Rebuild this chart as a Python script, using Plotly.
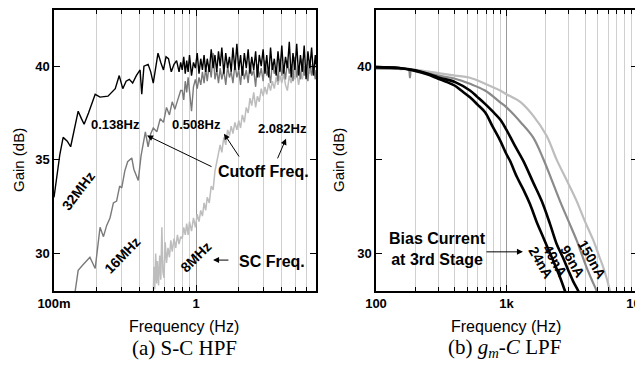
import math
import plotly.graph_objects as go

# ---------------- (a) S-C HPF data ----------------
F_HI = [0.80, 0.82, 0.84, 0.86, 0.88, 0.90, 0.93, 0.96, 0.99, 1.02, 1.05, 1.08, 1.11, 1.14, 1.17,
        1.20, 1.24, 1.28, 1.32, 1.36, 1.40, 1.44, 1.48, 1.52, 1.57, 1.62, 1.67, 1.72, 1.77, 1.82,
        1.88, 1.94, 2.00, 2.06, 2.12, 2.19, 2.26, 2.33, 2.40, 2.47, 2.55, 2.63, 2.71, 2.79, 2.88,
        2.97, 3.06, 3.15, 3.25, 3.35, 3.45, 3.56, 3.67, 3.78, 3.90, 4.02, 4.14, 4.27, 4.40, 4.54,
        4.68, 4.82, 4.97, 5.12, 5.28, 5.44, 5.61, 5.78, 5.96, 6.14, 6.33, 6.52, 6.72, 6.92, 7.00]

F_32_LO = [0.100, 0.105, 0.110, 0.116, 0.124, 0.131, 0.140, 0.148, 0.156, 0.163, 0.175, 0.195,
           0.211, 0.240, 0.270, 0.288, 0.305, 0.322, 0.339, 0.358, 0.380, 0.404, 0.415, 0.430,
           0.460, 0.480, 0.500, 0.540, 0.565, 0.590, 0.615, 0.640, 0.670, 0.700, 0.730, 0.760, 0.780]
G_32_LO = [33.0, 34.3, 35.3, 36.2, 36.0, 35.7, 36.8, 37.6, 37.2, 36.9, 37.5, 38.5,
           38.35, 38.4, 38.8, 39.5, 38.8, 39.2, 39.3, 39.1, 39.5, 39.8, 38.5, 40.0,
           40.1, 39.7, 39.1, 40.7, 40.2, 39.8, 40.5, 40.4, 39.7, 40.1, 40.3, 39.7, 40.2]
G_32_HI = [39.8, 40.5, 39.6, 40.3, 39.7, 40.6, 39.5, 40.2, 39.9, 40.7, 39.6, 40.4, 39.8, 40.6, 39.7,
           40.4, 39.7, 40.9, 39.9, 40.6, 39.7, 40.8, 40.0, 41.0, 39.6, 40.7, 39.9, 40.5, 39.7, 41.0,
           39.8, 41.2, 39.8, 40.6, 39.5, 40.7, 39.9, 40.9, 39.6, 40.5, 39.8, 40.8, 39.4, 40.6, 40.0,
           40.9, 39.6, 40.6, 39.4, 41.0, 39.8, 40.4, 39.5, 40.8, 39.7, 41.1, 39.6, 40.5, 39.9, 41.3,
           39.4, 40.7, 39.8, 41.2, 39.5, 40.6, 39.7, 41.1, 39.3, 40.8, 39.9, 41.0, 39.5, 40.6, 40.1]

F_16_LO = [0.138, 0.148, 0.160, 0.179, 0.195, 0.205, 0.211, 0.223, 0.235, 0.248, 0.262, 0.276,
           0.290, 0.300, 0.315, 0.330, 0.343, 0.353, 0.365, 0.380, 0.392, 0.410, 0.425, 0.440,
           0.460, 0.480, 0.500, 0.530, 0.560, 0.590, 0.620, 0.650, 0.680, 0.710, 0.730, 0.760, 0.780]
G_16_LO = [27.5, 29.1, 29.4, 29.8, 29.2, 30.6, 31.4, 30.9, 31.5, 31.9, 32.7, 32.8,
           33.6, 33.5, 34.4, 34.9, 35.05, 35.1, 34.5, 34.2, 33.9, 35.2, 36.0, 36.5,
           35.7, 36.4, 36.7, 36.5, 37.2, 37.0, 37.8, 37.4, 38.1, 37.7, 38.0, 38.5, 38.7]
G_16_HI = [38.7, 38.2, 39.2, 38.6, 39.4, 38.5, 37.6, 38.9, 39.3, 38.8, 39.4, 39.0, 39.7, 39.1, 39.9,
           39.2, 40.1, 39.4, 40.7, 39.3, 39.8, 39.1, 39.9, 39.3, 39.8, 39.0, 40.0, 39.4, 39.7, 39.1,
           40.1, 39.4, 39.8, 39.0, 40.0, 39.3, 39.8, 39.1, 40.2, 39.5, 39.8, 38.9, 40.1, 39.4, 39.9,
           39.2, 40.3, 39.5, 39.8, 39.1, 40.2, 39.6, 39.9, 39.2, 40.4, 39.5, 40.0, 39.3, 40.3, 39.6,
           40.1, 39.2, 40.5, 39.4, 40.0, 39.3, 40.4, 39.5, 40.1, 39.2, 40.3, 39.5, 40.0, 39.3, 39.8]

F_8_LO = [0.500, 0.505, 0.512, 0.520, 0.528, 0.535, 0.545, 0.555, 0.565, 0.575, 0.585, 0.595,
          0.607, 0.620, 0.635, 0.650, 0.665, 0.680, 0.700, 0.720, 0.740, 0.760, 0.780]
G_8_LO = [27.5, 29.3, 28.1, 30.0, 28.4, 29.6, 28.3, 29.9, 28.6, 31.4, 29.0, 28.7,
          30.6, 29.5, 30.3, 29.8, 30.7, 30.1, 30.8, 30.3, 31.0, 30.5, 30.9]
G_8_HI = [30.8, 31.4, 31.0, 31.6, 31.0, 31.7, 31.2, 31.9, 31.4, 32.1, 31.7, 32.3, 32.0, 32.7, 32.3,
          33.0, 32.7, 33.6, 33.4, 34.4, 34.9, 35.3, 35.8, 35.4, 36.2, 35.8, 36.6, 36.3, 36.8, 36.4,
          37.0, 36.6, 37.1, 36.7, 37.4, 37.0, 37.8, 37.5, 38.3, 37.9, 38.6, 37.8, 38.4, 38.1, 38.8,
          38.4, 38.9, 38.5, 39.1, 38.7, 39.2, 38.8, 39.4, 39.0, 39.5, 39.1, 39.6, 39.0, 38.7, 39.5,
          39.1, 39.8, 39.3, 39.7, 39.0, 39.6, 39.3, 40.0, 39.5, 40.2, 39.6, 40.1, 39.7, 40.2, 39.9]

# ---------------- (b) gm-C LPF data ----------------
F_24 = [100, 150, 200, 250, 300, 350, 400, 450, 525, 600, 685, 780, 895, 1000, 1064, 1200, 1350,
        1513, 1700, 1914, 2100, 2285, 2550, 2806, 2950]
G_24 = [39.95, 39.9, 39.75, 39.55, 39.33, 39.15, 38.97, 38.7, 38.34, 37.95, 37.54, 36.8, 36.03,
        35.3, 34.95, 34.1, 33.4, 32.64, 31.7, 30.86, 30.2, 29.6, 28.8, 28.0, 27.6]
F_40 = [100, 150, 200, 250, 300, 404, 525, 600, 685, 780, 895, 1000, 1150, 1345, 1600, 1862,
        2150, 2427, 2700, 2978, 3250, 3550, 3750]
G_40 = [39.95, 39.9, 39.78, 39.6, 39.4, 39.15, 38.7, 38.35, 37.99, 37.6, 37.15, 36.6, 35.8,
        34.95, 33.8, 32.8, 31.6, 30.5, 29.8, 29.1, 28.5, 28.0, 27.6]
F_96 = [100, 150, 178, 182, 186, 200, 300, 404, 525, 685, 895, 1000, 1288, 1600, 1900, 2200,
        2570, 3000, 3450, 3800, 4115, 4500, 4910, 5150]
G_96 = [39.9, 39.85, 39.8, 39.4, 39.8, 39.75, 39.5, 39.33, 39.06, 38.7, 38.07, 37.8, 37.0, 36.2,
        35.1, 34.0, 32.8, 31.7, 30.7, 29.9, 29.25, 28.6, 28.0, 27.6]
F_150 = [100, 150, 200, 300, 404, 525, 685, 895, 1000, 1288, 1600, 2024, 2427, 2900, 3450, 4000,
         4630, 5100, 5525, 5900, 6210, 6500]
G_150 = [39.85, 39.85, 39.8, 39.63, 39.5, 39.38, 39.06, 38.7, 38.5, 38.07, 37.36, 36.3, 35.0,
         33.9, 32.8, 31.7, 30.7, 29.9, 29.25, 28.6, 28.0, 27.6]

# tick definitions
XA_MAJOR = [0.1, 1]
XA_MAJOR_TXT = ["100m", "1"]
XA_MINOR = [0.2, 0.3, 0.4, 0.5, 0.6, 0.7, 0.8, 0.9, 2, 3, 4, 5, 6, 7]
XB_MAJOR = [100, 1000, 10000]
XB_MAJOR_TXT = ["100", "1k", "10k"]
XB_MINOR = [200, 300, 400, 500, 600, 700, 800, 900, 2000, 3000, 4000, 5000, 6000, 7000, 8000, 9000]
Y_TICKS = [30, 35, 40]
YA_TXT = ["30", "35", "40"]
YB_TXT = ["30", "", "40"]

BLACK = "#000000"
DGRAY = "#7a7a7a"
LGRAY = "#bdbdbd"
SANS = "Liberation Sans, Arial, sans-serif"
SERIF = "Liberation Serif, Times New Roman, serif"

# page offset of the plot div (body margin) -> work in window pixels
OFF = 8
W, H = 643 - OFF, 365 - OFF


def px(x):
    return (x - OFF) / W


def py(y):
    return 1 - (y - OFF) / H


fig = go.Figure()
# (a)
fig.add_trace(go.Scatter(x=F_8_LO + F_HI, y=G_8_LO + G_8_HI, mode="lines",
                         line=dict(color=LGRAY, width=1.5), xaxis="x", yaxis="y"))
fig.add_trace(go.Scatter(x=F_16_LO + F_HI, y=G_16_LO + G_16_HI, mode="lines",
                         line=dict(color=DGRAY, width=1.4), xaxis="x", yaxis="y"))
fig.add_trace(go.Scatter(x=F_32_LO + F_HI, y=G_32_LO + G_32_HI, mode="lines",
                         line=dict(color=BLACK, width=1.4), xaxis="x", yaxis="y"))
# (b)
fig.add_trace(go.Scatter(x=F_150, y=G_150, mode="lines", line=dict(color=LGRAY, width=2.2, shape="spline"),
                         xaxis="x2", yaxis="y2"))
fig.add_trace(go.Scatter(x=F_96, y=G_96, mode="lines", line=dict(color="#8a8a8a", width=2.2, shape="spline"),
                         xaxis="x2", yaxis="y2"))
fig.add_trace(go.Scatter(x=F_40, y=G_40, mode="lines", line=dict(color=BLACK, width=2.6, shape="spline"),
                         xaxis="x2", yaxis="y2"))
fig.add_trace(go.Scatter(x=F_24, y=G_24, mode="lines", line=dict(color=BLACK, width=2.6, shape="spline"),
                         xaxis="x2", yaxis="y2"))

tickfont = dict(family=SANS, size=13, color="black", weight="bold")


def xaxis(dom, rng, major, txt, minor, anchor):
    return dict(type="log", range=rng, domain=dom, anchor=anchor, automargin=False,
                tickmode="array", tickvals=major, ticktext=txt, ticklabeloverflow="allow",
                ticks="inside", ticklen=6, tickwidth=1, tickcolor="black",
                showline=True, linecolor="black", linewidth=1.5, mirror="allticks",
                showgrid=True, gridcolor="#9a9a9a", gridwidth=1, zeroline=False,
                tickfont=tickfont,
                minor=dict(tickmode="array", tickvals=minor, ticks="inside", ticklen=4,
                           tickwidth=1, tickcolor="black",
                           showgrid=True, gridcolor="#d0d0d0", gridwidth=1))


def yaxis(dom, txt, anchor):
    return dict(range=[28, 43], domain=dom, anchor=anchor, automargin=False,
                tickmode="array", tickvals=Y_TICKS, ticktext=txt,
                ticks="inside", ticklen=6, tickwidth=1, tickcolor="black",
                showline=True, linecolor="black", linewidth=1.5, mirror="allticks",
                showgrid=False, zeroline=False, tickfont=tickfont)


YDOM = [py(291), py(10)]
fig.update_layout(
    width=W, height=H, margin=dict(l=0, r=0, t=0, b=0, autoexpand=False),
    paper_bgcolor="white", plot_bgcolor="white", showlegend=False,
    xaxis=xaxis([px(54), px(316)], [-1, math.log10(7)], XA_MAJOR, XA_MAJOR_TXT, XA_MINOR, "y"),
    yaxis=yaxis(YDOM, YA_TXT, "x"),
    xaxis2=xaxis([px(376), px(637)], [2, 4], XB_MAJOR, XB_MAJOR_TXT, XB_MINOR, "y2"),
    yaxis2=yaxis(YDOM, YB_TXT, "x2"),
)

ann = []


def txt(x, y, text, size=13, ref="", angle=0, bold=True):
    ann.append(dict(x=x, y=y, xref="x" + ref, yref="y" + ref, text=text, showarrow=False,
                    textangle=angle, xanchor="center", yanchor="middle",
                    font=dict(family=SANS, size=size, color="black", weight="bold" if bold else "normal")))


def arrow(x, y, ax, ay, ref=""):
    ann.append(dict(x=x, y=y, ax=ax, ay=ay, xref="x" + ref, yref="y" + ref,
                    axref="x" + ref, ayref="y" + ref, text="", showarrow=True,
                    arrowhead=2, arrowsize=1.2, arrowwidth=1, arrowcolor="black"))


# (a) annotations (x in log10 units)
txt(-0.570, 36.9, "0.138Hz", 13)
txt(0.0, 36.9, "0.508Hz", 13)
txt(0.606, 36.7, "2.082Hz", 13)
txt(0.472, 34.4, "Cutoff Freq.", 16)
arrow(-0.345, 36.3, 0.120, 34.6)
arrow(0.197, 36.4, 0.310, 35.1)
arrow(0.634, 36.13, 0.570, 35.0)
txt(-0.831, 33.35, "32MHz", 14, angle=-53)
txt(-0.518, 29.93, "16MHz", 14, angle=-46)
txt(0.0, 29.8, "8MHz", 14, angle=-45)
txt(0.535, 29.6, "SC Freq.", 16)
arrow(0.120, 29.65, 0.239, 29.65)

# (b) annotations
txt(2.475, 30.25, "Bias Current<br>at 3rd Stage", 16, ref="2")
arrow(3.126, 30.09, 2.835, 30.09, ref="2")
txt(3.268, 29.52, "24nA", 14, ref="2", angle=60)
txt(3.375, 29.61, "40nA", 14, ref="2", angle=60)
txt(3.506, 29.61, "96nA", 14, ref="2", angle=60)
txt(3.653, 29.70, "150nA", 14, ref="2", angle=60)


def paper(x, y, text, size, family=SANS, angle=0):
    ann.append(dict(x=px(x), y=py(y), xref="paper", yref="paper", text=text,
                    showarrow=False, textangle=angle, xanchor="center", yanchor="middle",
                    font=dict(family=family, size=size, color="black")))


paper(18.5, 160.5, "Gain (dB)", 15, angle=-90)
paper(338.5, 160.5, "Gain (dB)", 15, angle=-90)
paper(184, 326.5, "Frequency (Hz)", 16)
paper(506, 326.5, "Frequency (Hz)", 16)
paper(184, 347.5, "(a) S-C HPF", 21, family=SERIF)
paper(504, 347.5, "(b) <i>g</i><sub><i>m</i></sub>-<i>C</i> LPF", 21, family=SERIF)

fig.update_layout(annotations=ann)
fig.write_html("out.html")
